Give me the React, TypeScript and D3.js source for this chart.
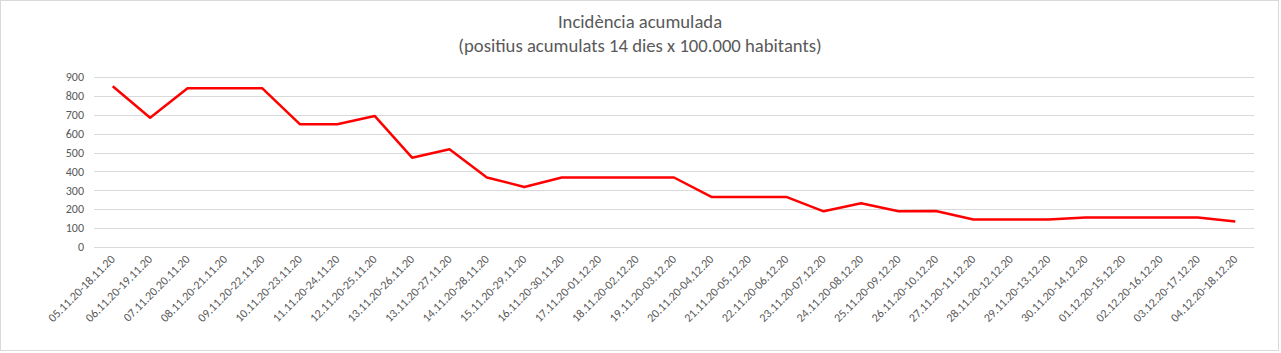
import { useEffect, useRef } from "react";
import * as d3 from "d3";

const periods = [
  "05.11.20-18.11.20", "06.11.20-19.11.20", "07.11.20.20.11.20", "08.11.20-21.11.20",
  "09.11.20-22.11.20", "10.11.20-23.11.20", "11.11.20-24.11.20", "12.11.20-25.11.20",
  "13.11.20-26.11.20", "13.11.20-27.11.20", "14.11.20-28.11.20", "15.11.20-29.11.20",
  "16.11.20-30.11.20", "17.11.20-01.12.20", "18.11.20-02.12.20", "19.11.20-03.12.20",
  "20.11.20-04.12.20", "21.11.20-05.12.20", "22.11.20-06.12.20", "23.11.20-07.12.20",
  "24.11.20-08.12.20", "25.11.20-09.12.20", "26.11.20-10.12.20", "27.11.20-11.12.20",
  "28.11.20-12.12.20", "29.11.20-13.12.20", "30.11.20-14.12.20", "01.12.20-15.12.20",
  "02.12.20-16.12.20", "03.12.20-17.12.20", "04.12.20-18.12.20",
];

const incidence = [
  851, 684, 840, 840, 840, 650, 650, 694, 473, 517, 368, 318, 368, 368, 368, 368,
  265, 265, 265, 189, 232, 189, 191, 146, 146, 146, 156, 156, 156, 156, 135,
];

const yTicks = [0, 100, 200, 300, 400, 500, 600, 700, 800, 900];

const titleLines = ["Incidència acumulada", "(positius acumulats 14 dies x 100.000 habitants)"];

export default function App() {
  const svgRef = useRef(null);
  const width = 1281;
  const height = 353;

  useEffect(() => {
    const svg = d3.select(svgRef.current);
    svg.selectAll("*").remove();

    const left = 94, right = 1254, top = 77, bottom = 247;
    const font = "Calibri, Carlito, 'Liberation Sans', Arial, sans-serif";

    const x = d3.scaleBand().domain(periods).range([left, right]);
    const y = d3.scaleLinear().domain([0, 900]).range([bottom, top]);

    // chart frame
    svg.append("rect")
      .attr("x", 0.5).attr("y", 0.5)
      .attr("width", 1278).attr("height", 350)
      .attr("fill", "#fff")
      .attr("stroke", "#d9d9d9");

    // title (14pt)
    svg.append("g")
      .selectAll("text")
      .data(titleLines)
      .join("text")
      .attr("x", 640)
      .attr("y", (d, i) => 28 + i * 24)
      .attr("text-anchor", "middle")
      .style("font-family", font)
      .style("font-size", "18.67px")
      .style("fill", "#595959")
      .text(d => d);

    // gridlines + y labels
    const grid = svg.append("g");
    grid.selectAll("line")
      .data(yTicks)
      .join("line")
      .attr("x1", left).attr("x2", right)
      .attr("y1", d => Math.round(y(d)) + 0.5)
      .attr("y2", d => Math.round(y(d)) + 0.5)
      .attr("stroke", "#d9d9d9")
      .attr("stroke-width", 1);

    grid.selectAll("text")
      .data(yTicks)
      .join("text")
      .attr("x", 84)
      .attr("y", d => y(d))
      .attr("dy", "0.35em")
      .attr("text-anchor", "end")
      .style("font-family", font)
      .style("font-size", "12px")
      .style("fill", "#595959")
      .text(d => d);

    // x labels, rotated
    svg.append("g")
      .selectAll("text")
      .data(periods)
      .join("text")
      .attr("transform", d => `translate(${x(d)! + x.bandwidth() / 2 + 3}, 260) rotate(-45)`)
      .attr("text-anchor", "end")
      .style("font-family", font)
      .style("font-size", "12px")
      .style("fill", "#595959")
      .text(d => d);

    // line
    const line = d3.line<number>()
      .x((d, i) => x(periods[i])! + x.bandwidth() / 2)
      .y(d => y(d));

    svg.append("path")
      .datum(incidence)
      .attr("d", line)
      .attr("fill", "none")
      .attr("stroke", "#ff0000")
      .attr("stroke-width", 2.5)
      .attr("stroke-linejoin", "round");
  }, []);

  return (
    <svg
      ref={svgRef}
      width={width}
      height={height}
      style={{ position: "absolute", left: 0, top: 0, background: "#fff" }}
    />
  );
}
